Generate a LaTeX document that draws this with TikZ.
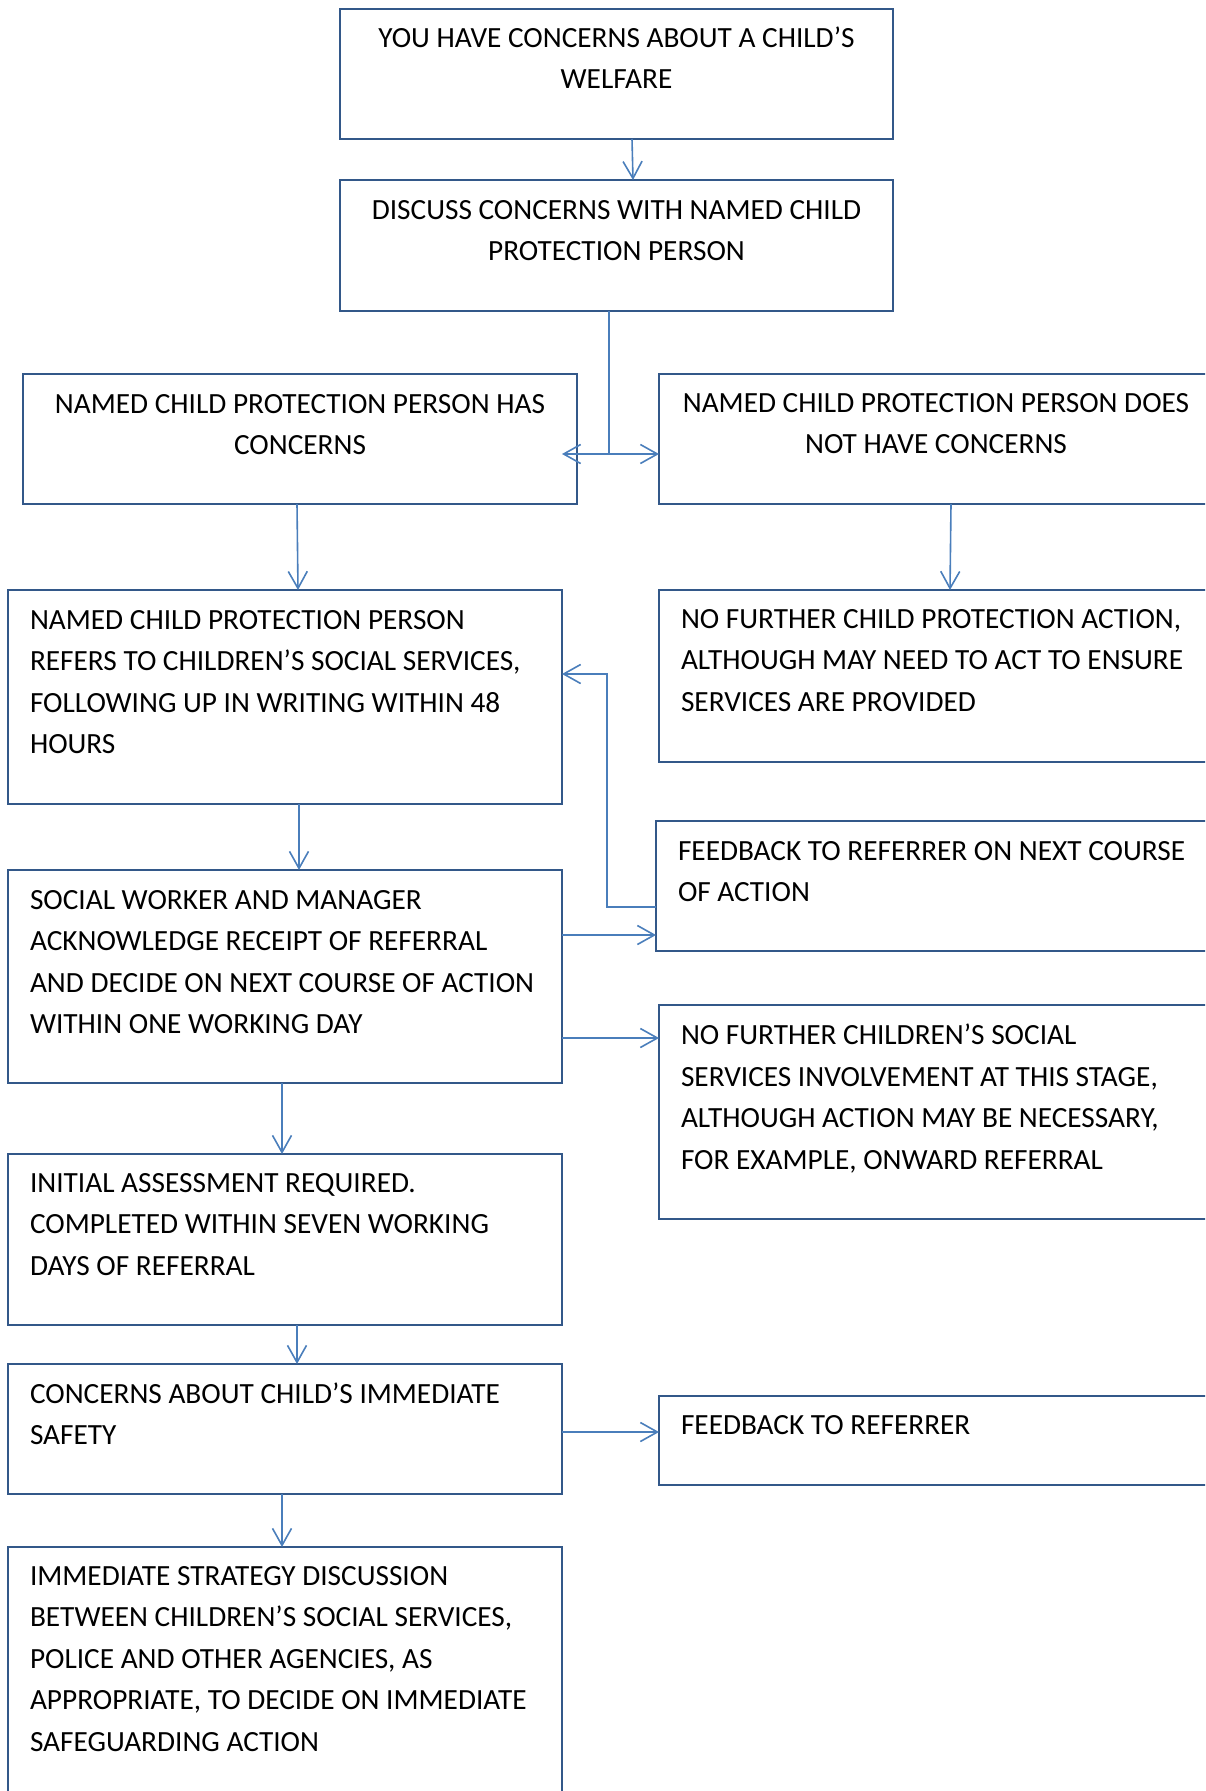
\documentclass[tikz,border=0pt]{standalone}
\usepackage{fontspec}
\setmainfont{Carlito}
\usetikzlibrary{arrows.meta,calc}
\definecolor{boxblue}{HTML}{335889}
\definecolor{linkblue}{HTML}{4A7EBB}
\begin{document}
\begin{tikzpicture}[x=1pt,y=-1pt,
  box/.style={draw=boxblue, line width=2.9pt, rectangle, inner sep=0pt, outer sep=0pt, anchor=north west, minimum width=554pt},
  txt/.style={inner sep=0pt, outer sep=0pt, font=\fontsize{29.3}{41.5}\selectfont, text=black},
  ltxt/.style={txt, align=left, anchor=north west},
  ctxt/.style={txt, align=center, anchor=north},
  link/.style={draw=linkblue, line width=1.6pt, -{Straight Barb[length=17pt,width=19pt]}},
  plain/.style={draw=linkblue, line width=1.6pt}]
\useasboundingbox (0,0) rectangle (1205,1791);
\clip (0,0) rectangle (1205,1791);
% boxes
\node[box, minimum width=553pt, minimum height=130pt] (b1) at (340,9) {};
\node[box, minimum width=553pt, minimum height=131pt] (b2) at (340,180) {};
\node[box, minimum height=130pt] (b3) at (23,374) {};
\node[box, minimum height=130pt] (b4) at (659,374) {};
\node[box, minimum height=214pt] (b5) at (8,590) {};
\node[box, minimum height=172pt] (b6) at (659,590) {};
\node[box, minimum height=130pt] (b7) at (656,821) {};
\node[box, minimum height=213pt] (b8) at (8,870) {};
\node[box, minimum height=214pt] (b9) at (659,1005) {};
\node[box, minimum height=171pt] (b10) at (8,1154) {};
\node[box, minimum height=130pt] (b11) at (8,1364) {};
\node[box, minimum height=89pt] (b12) at (659,1396) {};
\node[box, minimum height=270pt] (b13) at (8,1547) {};
% texts
\node[ctxt] (t1) at ($(b1.north)+(0,17.5)$) {YOU HAVE CONCERNS ABOUT A CHILD’S\\WELFARE};
\node[ctxt] (t2) at ($(b2.north)+(0,20)$) {DISCUSS CONCERNS WITH NAMED CHILD\\PROTECTION PERSON};
\node[ctxt] (t3) at ($(b3.north)+(0,20)$) {NAMED CHILD PROTECTION PERSON HAS\\CONCERNS};
\node[ctxt] (t4) at ($(b4.north)+(0,19)$) {NAMED CHILD PROTECTION PERSON DOES\\NOT HAVE CONCERNS};
\node[ltxt] (t5) at ($(b5.north west)+(22,20)$) {NAMED CHILD PROTECTION PERSON\\REFERS TO CHILDREN’S SOCIAL SERVICES,\\FOLLOWING UP IN WRITING WITHIN 48\\HOURS};
\node[ltxt] (t6) at ($(b6.north west)+(22,19)$) {NO FURTHER CHILD PROTECTION ACTION,\\ALTHOUGH MAY NEED TO ACT TO ENSURE\\SERVICES ARE PROVIDED};
\node[ltxt] (t7) at ($(b7.north west)+(22,20)$) {FEEDBACK TO REFERRER ON NEXT COURSE\\OF ACTION};
\node[ltxt] (t8) at ($(b8.north west)+(22,20)$) {SOCIAL WORKER AND MANAGER\\ACKNOWLEDGE RECEIPT OF REFERRAL\\AND DECIDE ON NEXT COURSE OF ACTION\\WITHIN ONE WORKING DAY};
\node[ltxt] (t9) at ($(b9.north west)+(22,19)$) {NO FURTHER CHILDREN’S SOCIAL\\SERVICES INVOLVEMENT AT THIS STAGE,\\ALTHOUGH ACTION MAY BE NECESSARY,\\FOR EXAMPLE, ONWARD REFERRAL};
\node[ltxt] (t10) at ($(b10.north west)+(22,19)$) {INITIAL ASSESSMENT REQUIRED.\\COMPLETED WITHIN SEVEN WORKING\\DAYS OF REFERRAL};
\node[ltxt] (t11) at ($(b11.north west)+(22,18.5)$) {CONCERNS ABOUT CHILD’S IMMEDIATE\\SAFETY};
\node[ltxt] (t12) at ($(b12.north west)+(22,19)$) {FEEDBACK TO REFERRER};
\node[ltxt] (t13) at ($(b13.north west)+(22,19)$) {IMMEDIATE STRATEGY DISCUSSION\\BETWEEN CHILDREN’S SOCIAL SERVICES,\\POLICE AND OTHER AGENCIES, AS\\APPROPRIATE, TO DECIDE ON IMMEDIATE\\SAFEGUARDING ACTION};
% connectors
\draw[link] ($(b1.south)+(15.5,0)$) -- ($(b2.north)+(16.5,0)$);
\coordinate (split) at (609,454);
\draw[plain] ($(b2.south)+(-7.5,0)$) -- (split);
\draw[link] (split) -- ($(b3.east |- split)+(-15,0)$);
\draw[link] (split) -- (b4.west |- split);
\draw[link] ($(b3.south)+(-3,0)$) -- ($(b5.north)+(13,0)$);
\draw[link] ($(b4.south)+(15,0)$) -- ($(b6.north)+(14,0)$);
\draw[link] ($(b5.south)+(14,0)$) -- ($(b8.north)+(14,0)$);
\coordinate (r1) at (607,907);
\coordinate (r2) at (607,674);
\draw[link] (b7.west |- r1) -- (r1) -- (r2) -- (b5.east |- r2);
\coordinate (r3) at (0,935);
\draw[link] (b8.east |- r3) -- (b7.west |- r3);
\coordinate (r4) at (0,1038);
\draw[link] (b8.east |- r4) -- (b9.west |- r4);
\draw[link] ($(b8.south)+(-3,0)$) -- ($(b10.north)+(-3,0)$);
\draw[link] ($(b10.south)+(12,0)$) -- ($(b11.north)+(12,0)$);
\coordinate (r5) at (0,1432);
\draw[link] (b11.east |- r5) -- (b12.west |- r5);
\draw[link] ($(b11.south)+(-3,0)$) -- ($(b13.north)+(-3,0)$);
\end{tikzpicture}
\end{document}
